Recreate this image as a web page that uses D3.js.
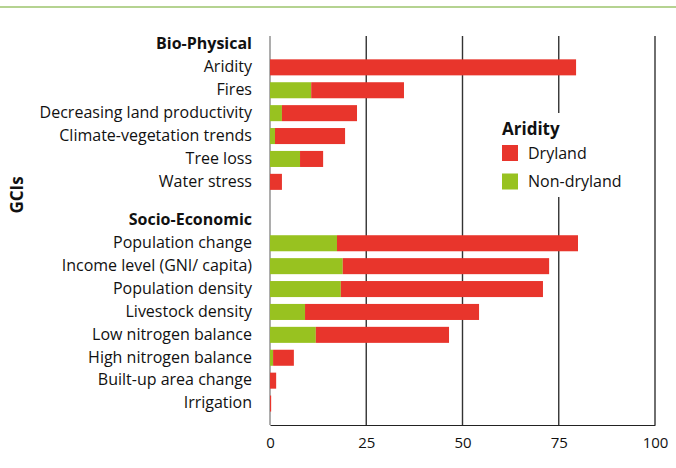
<!DOCTYPE html>
<html>
<head>
<meta charset="utf-8">
<script src="https://cdn.jsdelivr.net/npm/d3@7/dist/d3.min.js"></script>
<style>
  html, body { margin: 0; padding: 0; background: #fff; }
  svg { display: block; }
  text { font-family: "Open Sans", "Noto Sans", sans-serif; fill: #111; }
</style>
</head>
<body>
<svg id="chart" width="676" height="468"></svg>
<script>
// ---- data ----
const groups = ["Bio-Physical", "Socio-Economic"];
const bioCategories = ["Aridity", "Fires", "Decreasing land productivity", "Climate-vegetation trends", "Tree loss", "Water stress"];
const bioNonDryland = [0, 10.7, 3.1, 1.3, 7.8, 0];
const bioDryland    = [79.5, 24.1, 19.5, 18.2, 6.0, 3.1];
const socioCategories = ["Population change", "Income level (GNI/ capita)", "Population density", "Livestock density", "Low nitrogen balance", "High nitrogen balance", "Built-up area change", "Irrigation"];
const socioNonDryland = [17.4, 18.9, 18.4, 9.1, 11.9, 0.8, 0, 0];
const socioDryland    = [62.6, 53.6, 52.5, 45.2, 34.6, 5.4, 1.6, 0.3];
const xTicks = [0, 25, 50, 75, 100];
const seriesNames = ["Dryland", "Non-dryland"];
const legendTitle = "Aridity";
const axisTitle = "GCIs";

// ---- build rows ----
const rows = [];
rows.push({label: groups[0], header: true, group: 0});
bioCategories.forEach((c, i) => rows.push({label: c, header: false, group: 0, non: bioNonDryland[i], dry: bioDryland[i]}));
rows.push({label: groups[1], header: true, group: 1});
socioCategories.forEach((c, i) => rows.push({label: c, header: false, group: 1, non: socioNonDryland[i], dry: socioDryland[i]}));

const colors = {Dryland: "#e8352c", "Non-dryland": "#98c220"};

const svg = d3.select("#chart");

// top rule
svg.append("line").attr("x1", 0).attr("x2", 676).attr("y1", 7).attr("y2", 7)
  .attr("stroke", "#9dc56c").attr("stroke-width", 1.6);

const x = d3.scaleLinear().domain([0, 100]).range([270, 655]);
const y = d3.scaleBand().domain(rows.map(r => r.label)).range([33, 33 + rows.length * 22.9]).paddingInner(0.3).paddingOuter(0.15);
const groupGap = 15.6;
const yPos = r => y(r.label) + (r.group === 1 ? groupGap : 0);
const yMid = r => yPos(r) + y.bandwidth() / 2;

const gridTop = 36, gridBottom = 425;

// gridlines
svg.append("g").selectAll("line").data(xTicks).join("line")
  .attr("x1", d => x(d)).attr("x2", d => x(d))
  .attr("y1", gridTop).attr("y2", gridBottom)
  .attr("stroke", d => d === 0 ? "#8a8a8a" : "#333")
  .attr("stroke-width", 1.4);

// bottom axis
const xAxis = d3.axisBottom(x).tickValues(xTicks).tickSize(0).tickPadding(12);
const ax = svg.append("g").attr("transform", `translate(0,${gridBottom})`).call(xAxis);
ax.select(".domain").attr("stroke", "#222").attr("stroke-width", 1);
ax.selectAll("text").style("font-size", "15px").style("font-family", '"Open Sans", sans-serif').attr("fill", "#111");

// bars
const data = rows.filter(r => !r.header);
const bars = svg.append("g");
bars.selectAll("rect.non").data(data).join("rect").attr("class", "non")
  .attr("x", x(0)).attr("y", d => yPos(d))
  .attr("width", d => x(d.non) - x(0)).attr("height", y.bandwidth())
  .attr("fill", colors["Non-dryland"]);
bars.selectAll("rect.dry").data(data).join("rect").attr("class", "dry")
  .attr("x", d => x(d.non)).attr("y", d => yPos(d))
  .attr("width", d => x(d.non + d.dry) - x(d.non)).attr("height", y.bandwidth())
  .attr("fill", colors["Dryland"]);

// category labels
svg.append("g").selectAll("text").data(rows).join("text")
  .attr("x", 252).attr("y", d => yMid(d)).attr("dy", "0.3em")
  .attr("text-anchor", "end")
  .style("font-size", "16px")
  .style("font-weight", d => d.header ? "bold" : "normal")
  .text(d => d.label);

// axis title
svg.append("text").attr("transform", "translate(23,195) rotate(-90)")
  .attr("text-anchor", "middle").style("font-size", "17px").style("font-weight", "bold")
  .text(axisTitle);

// legend
const lg = svg.append("g");
lg.append("rect").attr("x", 495).attr("y", 113).attr("width", 140).attr("height", 84).attr("fill", "#fff");
lg.append("text").attr("x", 502).attr("y", 135).style("font-size", "17px").style("font-weight", "bold").text(legendTitle);
seriesNames.forEach((s, i) => {
  lg.append("rect").attr("x", 502).attr("y", 145 + i * 28.5).attr("width", 16).attr("height", 16).attr("fill", colors[s]);
  lg.append("text").attr("x", 528).attr("y", 153 + i * 28.5).attr("dy", "0.35em").style("font-size", "16px").text(s);
});
</script>
</body>
</html>
